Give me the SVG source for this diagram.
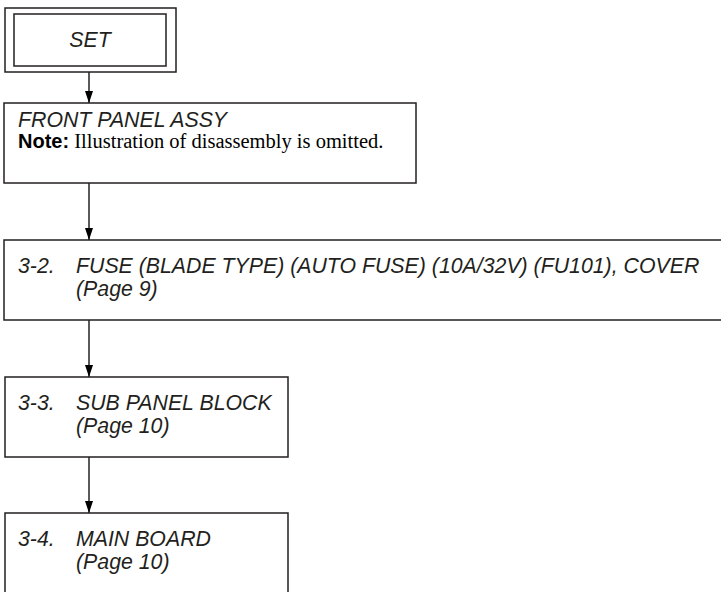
<svg xmlns="http://www.w3.org/2000/svg" width="721" height="592" viewBox="0 0 721 592">
<defs>
<style>
.box{fill:#fff;stroke:#231f20;stroke-width:1.5}
.open{fill:none;stroke:#231f20;stroke-width:1.5}
.t{font-family:"Liberation Sans",Arial,sans-serif;font-style:italic;font-size:21.3px;fill:#231f20}
.nb{font-family:"Liberation Sans",Arial,sans-serif;font-weight:bold;font-size:20px;fill:#000}
.nt{font-family:"Liberation Serif","Times New Roman",serif;font-size:20.5px;fill:#000}
.c{stroke:#000;stroke-width:1.3;fill:none;marker-end:url(#ah)}
</style>
<marker id="ah" viewBox="0 0 12 8" refX="12" refY="4" markerWidth="12" markerHeight="8" markerUnits="userSpaceOnUse" orient="auto">
<path d="M0,0 L12,4 L0,8 Z" fill="#000"/>
</marker>
</defs>
<g id="connectors">
<line class="c" x1="89" y1="72" x2="89" y2="103"/>
<line class="c" x1="89" y1="183" x2="89" y2="240"/>
<line class="c" x1="89" y1="320" x2="89" y2="377"/>
<line class="c" x1="89" y1="457" x2="89" y2="513"/>
</g>
<g id="set">
<rect class="box" x="5" y="8" width="171" height="64"/>
<rect class="box" x="14" y="14" width="152" height="52"/>
<text class="t" x="90" y="47" text-anchor="middle">SET</text>
</g>
<g id="front-panel">
<rect class="box" x="4" y="103" width="412" height="80"/>
<text class="t" x="18" y="127">FRONT PANEL ASSY</text>
<text x="18" y="148"><tspan class="nb">Note:</tspan><tspan class="nt"> Illustration of disassembly is omitted.</tspan></text>
</g>
<g id="fuse">
<path class="open" d="M721,240 H4 V320 H721"/>
<text class="t" x="18" y="273">3-2.</text>
<text class="t" x="76" y="273">FUSE (BLADE TYPE) (AUTO FUSE) (10A/32V) (FU101), COVER</text>
<text class="t" x="76" y="296">(Page 9)</text>
</g>
<g id="sub-panel">
<rect class="box" x="5" y="377" width="283" height="80"/>
<text class="t" x="18" y="410">3-3.</text>
<text class="t" x="76" y="410">SUB PANEL BLOCK</text>
<text class="t" x="76" y="433">(Page 10)</text>
</g>
<g id="main-board">
<path class="open" d="M5,592 V513 H288 V592"/>
<text class="t" x="18" y="546">3-4.</text>
<text class="t" x="76" y="546">MAIN BOARD</text>
<text class="t" x="76" y="569">(Page 10)</text>
</g>
</svg>
